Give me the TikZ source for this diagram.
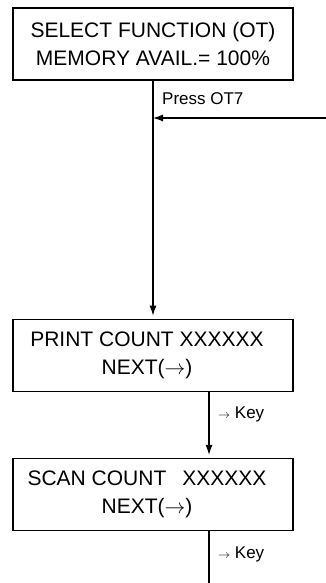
\documentclass[tikz,border=0pt]{standalone}
\usepackage{fontspec}
\setmainfont{Liberation Sans}
\usetikzlibrary{positioning,arrows.meta}
\newcommand{\keyarrow}{{\fontsize{12}{12}\selectfont$\rightarrow$}}

\begin{document}
\begin{tikzpicture}[
    x=1pt, y=-1pt,
    >={Latex[length=10pt,width=7pt]},
    screen/.style={draw, line width=1.3pt, minimum width=280pt, minimum height=72pt,
      inner sep=0pt, align=center, font=\fontsize{21}{28}\selectfont},
    flow/.style={->, line width=1.2pt, shorten >=3pt},
    link/.style={line width=1.2pt},
    keylbl/.style={font=\fontsize{17}{20}\selectfont, inner sep=0pt},
  ]
\useasboundingbox (0,0) rectangle (326,583);

% ===== screens =====
\node[screen] (select) at (153,44) {SELECT FUNCTION (OT)\\MEMORY AVAIL.= 100\%};
\node[screen, below=238pt of select] (print) {PRINT COUNT XXXXXX\hspace*{12pt}\\NEXT($\rightarrow$)\hspace*{12pt}};
\node[screen, below=66pt of print] (scan) {SCAN COUNT\hspace*{16pt}XXXXXX\hspace*{12pt}\\NEXT($\rightarrow$)\hspace*{12pt}};

% ===== entry from the right =====
\coordinate (feed) at (326,118);
\coordinate (join) at (select.south |- feed);
\draw[flow] (select.south) -- (print.north);
\draw[link, ->] (feed) -- (join);
\node[keylbl, anchor=base west] at ([xshift=9pt,yshift=13pt]join) {Press OT7};

% ===== next key =====
\draw[flow] ([xshift=56pt]print.south) -- ([xshift=56pt]scan.north);
\node[keylbl, anchor=base west] at ([xshift=65pt,yshift=-27pt]print.south) {\keyarrow\ Key};

\coordinate (exit) at ([xshift=56pt,yshift=-56pt]scan.south);
\draw[link] ([xshift=56pt]scan.south) -- (exit);
\node[keylbl, anchor=base west] at ([xshift=65pt,yshift=-27pt]scan.south) {\keyarrow\ Key};

\end{tikzpicture}
\end{document}
